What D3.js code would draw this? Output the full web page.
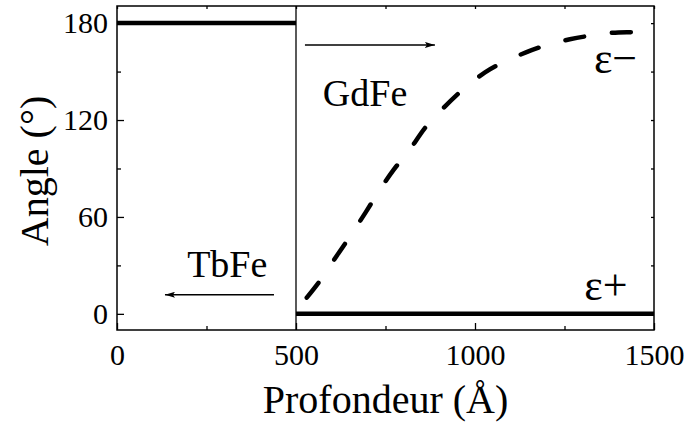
<!DOCTYPE html>
<html>
<head>
<meta charset="utf-8">
<script src="https://cdn.jsdelivr.net/npm/d3@7"></script>
<style>
  html, body { margin: 0; padding: 0; background: #fff; }
  svg { display: block; font-family: "Liberation Serif", "Times New Roman", serif; }
</style>
</head>
<body>
<svg id="chart" width="686" height="426"></svg>
<script>
// ---- data ----
const xMajorTicks = [0, 500, 1000, 1500];
const xMinorTicks = [250, 750, 1250];
const yMajorTicks = [0, 60, 120, 180];
const yMinorTicks = [30, 90, 150];

// TbFe layer (0-500 Å): angle 180°
const tbfeDepth = [0, 500];
const tbfeAngle = [180, 180];
// epsilon+ (500-1500 Å): angle 0°
const epsPlusDepth = [500, 1500];
const epsPlusAngle = [0, 0];
// epsilon- (dashed)
const epsMinusDepth = [530, 572, 614, 651, 695, 729, 772, 814, 860, 910, 972, 1028, 1091, 1144, 1209, 1265, 1329, 1384, 1447, 1500];
const epsMinusAngle = [10, 22, 36, 48, 63, 75, 89, 100.5, 115, 127, 140, 149.5, 157, 162, 167, 170, 172.5, 174, 174.5, 175];

const interfaceDepth = 500;

// ---- layout ----
const svg = d3.select("#chart");
const W = 686, H = 426;
const margin = {left: 117, right: 32, top: 6, bottom: 96};
const x = d3.scaleLinear().domain([0, 1500]).range([margin.left, W - margin.right]);
const y = d3.scaleLinear().domain([-10, 190.6]).range([H - margin.bottom, margin.top]);
const fontTick = 30, fontLabel = 38, fontEps = 44, fontTitle = 40;
const serif = "Liberation Serif";

const defs = svg.append("defs");
defs.append("marker").attr("id", "arr").attr("viewBox", "0 0 10 6")
  .attr("refX", 10).attr("refY", 3).attr("markerWidth", 10).attr("markerHeight", 6)
  .attr("markerUnits", "userSpaceOnUse").attr("orient", "auto")
  .append("path").attr("d", "M0,0 L10,3 L0,6 L2,3 Z").attr("fill", "#000");

const gAx = svg.append("g");
function styleAxis(g) {
  g.attr("font-family", serif).attr("font-size", fontTick);
  g.select(".domain").remove();
  g.selectAll("line").attr("stroke", "#000").attr("stroke-width", 1.3);
  g.selectAll("text").attr("font-size", fontTick).attr("font-family", serif).attr("fill", "#000");
}
const bottomY = H - margin.bottom, topY = margin.top, leftX = margin.left, rightX = W - margin.right;

gAx.append("g").attr("transform", `translate(0,${bottomY})`)
  .call(d3.axisBottom(x).tickValues(xMajorTicks).tickSize(-7).tickPadding(13.5).tickFormat(d3.format("d")))
  .call(styleAxis);
gAx.append("g").attr("transform", `translate(0,${bottomY})`)
  .call(d3.axisBottom(x).tickValues(xMinorTicks).tickSize(-4).tickFormat(""))
  .call(styleAxis);
gAx.append("g").attr("transform", `translate(0,${topY})`)
  .call(d3.axisTop(x).tickValues(xMajorTicks.concat(xMinorTicks)).tickSize(-3).tickFormat(""))
  .call(styleAxis);
gAx.append("g").attr("transform", `translate(${leftX},0)`)
  .call(d3.axisLeft(y).tickValues(yMajorTicks).tickSize(-7).tickPadding(9).tickFormat(d3.format("d")))
  .call(styleAxis);
gAx.append("g").attr("transform", `translate(${leftX},0)`)
  .call(d3.axisLeft(y).tickValues(yMinorTicks).tickSize(-4).tickFormat(""))
  .call(styleAxis);
gAx.append("g").attr("transform", `translate(${rightX},0)`)
  .call(d3.axisRight(y).tickValues(yMajorTicks.concat(yMinorTicks)).tickSize(-3).tickFormat(""))
  .call(styleAxis);

// frame
svg.append("rect").attr("x", leftX).attr("y", topY)
  .attr("width", rightX - leftX).attr("height", bottomY - topY)
  .attr("fill", "none").attr("stroke", "#000").attr("stroke-width", 1.5);

// interface line
svg.append("line").attr("x1", x(interfaceDepth)).attr("x2", x(interfaceDepth))
  .attr("y1", topY).attr("y2", bottomY).attr("stroke", "#000").attr("stroke-width", 1.3);

const line = d3.line().x(d => x(d[0])).y(d => y(d[1]));
svg.append("path").datum(d3.zip(tbfeDepth, tbfeAngle)).attr("d", line)
  .attr("fill", "none").attr("stroke", "#000").attr("stroke-width", 4.5);
svg.append("path").datum(d3.zip(epsPlusDepth, epsPlusAngle)).attr("d", line)
  .attr("fill", "none").attr("stroke", "#000").attr("stroke-width", 4.5);
svg.append("path").datum(d3.zip(epsMinusDepth, epsMinusAngle))
  .attr("d", line.curve(d3.curveMonotoneX))
  .attr("fill", "none").attr("stroke", "#000").attr("stroke-width", 4.5)
  .attr("stroke-linecap", "round").attr("stroke-dasharray", "19,28");

// annotations (data coordinates)
svg.append("line").attr("x1", x(525)).attr("x2", x(888)).attr("y1", y(166.5)).attr("y2", y(166.5))
  .attr("stroke", "#000").attr("stroke-width", 1.5).attr("marker-end", "url(#arr)");
svg.append("line").attr("x1", x(438.5)).attr("x2", x(134)).attr("y1", y(11.8)).attr("y2", y(11.8))
  .attr("stroke", "#000").attr("stroke-width", 1.5).attr("marker-end", "url(#arr)");

function label(txt, xv, yv, anchor, size) {
  svg.append("text").attr("x", x(xv)).attr("y", y(yv)).attr("text-anchor", anchor)
    .attr("font-family", serif).attr("font-size", size).attr("fill", "#000").text(txt);
}
label("GdFe", 575, 128.4, "start", fontLabel);
label("TbFe", 196, 22.9, "start", fontLabel);
label("ε−", 1453, 149, "end", fontEps);
label("ε+", 1426, 8.7, "end", fontEps);

// axis titles
svg.append("text").attr("x", (leftX + rightX) / 2).attr("y", 413).attr("text-anchor", "middle")
  .attr("font-family", serif).attr("font-size", fontTitle).attr("fill", "#000").text("Profondeur (Å)");
svg.append("text").attr("transform", `translate(48,${(topY + bottomY) / 2 + 3}) rotate(-90)`)
  .attr("text-anchor", "middle").attr("font-family", serif).attr("font-size", fontTitle)
  .attr("fill", "#000").text("Angle (°)");
</script>
</body>
</html>
